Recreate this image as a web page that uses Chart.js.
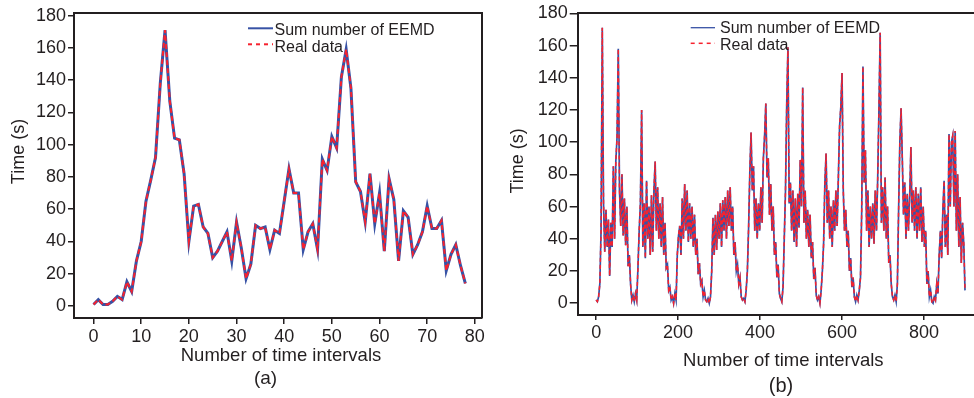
<!DOCTYPE html>
<html><head><meta charset="utf-8">
<script src="https://cdn.jsdelivr.net/npm/chart.js@4.4.1/dist/chart.umd.min.js"></script>
<style>
html,body{margin:0;padding:0;background:#fff;overflow:hidden;width:974px;height:398px;}
#ca{position:absolute;left:0;top:0;}
#cb{position:absolute;left:490px;top:0;}
</style></head><body>
<canvas id="ca" width="490" height="398"></canvas>
<canvas id="cb" width="500" height="398"></canvas>
<script>
// ---------- data: panel (a) ----------
const aIntervals = [0,1,2,3,4,5,6,7,8,9,10,11,12,13,14,15,16,17,18,19,20,21,22,23,24,25,26,27,28,29,30,31,32,33,34,35,36,37,38,39,40,41,42,43,44,45,46,47,48,49,50,51,52,53,54,55,56,57,58,59,60,61,62,63,64,65,66,67,68,69,70,71,72,73,74,75,76,77,78];
const aEEMD = [1,4,1,1,3,6,4,15,9,28, 40,65,78,92,138,171,127,104,103,82, 40,62,63,49,45,30,34,40,46,28, 52,36,17,26,50,48,49,35,47,45, 65,85,70,70,35,46,51,35,91,84, 105,98,142,159,135,77,71,52,82,51, 70,34,79,66,28,59,55,32,38,46, 62,48,48,53,22,32,38,25,14];
const aReal = [1,4,1,1,3,6,4,15,9,28, 40,65,78,92,138,171,127,104,103,82, 40,62,63,49,45,30,34,40,46,28, 52,36,17,26,50,48,49,35,47,45, 65,85,70,70,35,46,51,35,91,84, 105,98,142,159,135,77,71,52,82,51, 70,34,79,66,28,59,55,32,38,46, 62,48,48,53,22,32,38,25,14];
const aXTicks = [0,10,20,30,40,50,60,70,80];
const yTicks = [0,20,40,60,80,100,120,140,160,180];

// ---------- data: panel (b) (read every 3rd interval) ----------
const bStep = 3;
const bEEMD = [
  2,1,4,12,45,171,62,32,58,35,
  52,17,50,35,85,40,88,103,158,70,
  48,80,42,65,36,60,23,30,12,2,
  5,1,6,2,22,45,62,120,35,62,
  28,76,40,60,30,67,32,70,88,45,
  72,40,62,35,66,30,50,22,24,8,
  10,2,4,0,6,2,30,42,48,30,
  65,40,74,45,70,38,62,40,60,35,
  55,30,40,18,25,12,14,4,8,2,
  1,3,0,4,20,53,30,55,33,57,
  40,62,35,64,45,66,40,70,48,72,
  45,60,30,38,20,24,12,16,4,2,
  3,1,8,20,47,82,106,70,85,45,
  65,40,62,45,72,50,90,104,124,78,
  90,55,74,45,60,30,38,16,24,6,
  3,1,10,40,70,124,159,62,75,45,
  70,38,65,35,68,47,89,60,134,50,
  70,40,58,35,55,28,38,15,22,5,
  2,4,0,8,20,37,74,93,50,70,
  40,60,35,64,45,70,48,78,110,122,
  143,70,45,58,35,45,20,28,10,16,
  4,1,5,2,8,16,58,147,75,95,
  45,70,35,60,40,62,37,70,45,78,
  120,168,50,72,45,78,40,60,25,30,
  12,4,2,5,1,12,58,100,121,90,
  55,75,40,68,45,66,97,50,70,45,
  72,40,68,45,72,38,60,35,45,12,
  20,4,8,1,0,4,2,12,6,30,
  45,28,58,76,35,55,30,105,60,100,
  104,60,107,45,80,35,66,25,50,37,
  8];
const bReal = [
  2,1,4,12,45,171,62,32,58,35,
  52,17,50,35,85,40,88,103,158,70,
  48,80,42,65,36,60,23,30,12,2,
  5,1,6,2,22,45,62,120,35,62,
  28,76,40,60,30,67,32,70,88,45,
  72,40,62,35,66,30,50,22,24,8,
  10,2,4,0,6,2,30,42,48,30,
  65,40,74,45,70,38,62,40,60,35,
  55,30,40,18,25,12,14,4,8,2,
  1,3,0,4,20,53,30,55,33,57,
  40,62,35,64,45,66,40,70,48,72,
  45,60,30,38,20,24,12,16,4,2,
  3,1,8,20,47,82,106,70,85,45,
  65,40,62,45,72,50,90,104,124,78,
  90,55,74,45,60,30,38,16,24,6,
  3,1,10,40,70,124,159,62,75,45,
  70,38,65,35,68,47,89,60,134,50,
  70,40,58,35,55,28,38,15,22,5,
  2,4,0,8,20,37,74,93,50,70,
  40,60,35,64,45,70,48,78,110,122,
  143,70,45,58,35,45,20,28,10,16,
  4,1,5,2,8,16,58,147,75,95,
  45,70,35,60,40,62,37,70,45,78,
  120,168,50,72,45,78,40,60,25,30,
  12,4,2,5,1,12,58,100,121,90,
  55,75,40,68,45,66,97,50,70,45,
  72,40,68,45,72,38,60,35,45,12,
  20,4,8,1,0,4,2,12,6,30,
  45,28,58,76,35,55,30,105,60,100,
  104,60,107,45,80,35,66,25,50,37,
  8];
const bIntervals = bEEMD.map((_, k) => k * bStep);
const bXTicks = [0,200,400,600,800];

const seriesNames = ['Sum number of EEMD', 'Real data'];
const yTitle = 'Time (s)';
const xTitle = 'Number of time intervals';

// ---------- style ----------
const fontFamily = "'Liberation Sans', Arial, Helvetica, sans-serif";
const ink = '#231f20';
const blue = '#3752a5';
const red = '#f6222e';
Chart.defaults.font.family = fontFamily;
Chart.defaults.color = ink;

function pts(xs, ys) { return xs.map((x, k) => ({ x: x, y: ys[k] })); }

function decoPlugin(cfg) {
  return {
    id: 'deco',
    afterDraw(chart) {
      const ctx = chart.ctx, a = chart.chartArea;
      ctx.save();
      ctx.strokeStyle = ink; ctx.lineWidth = 2;
      ctx.beginPath();
      ctx.moveTo(a.left, a.top); ctx.lineTo(a.right, a.top);
      if (cfg.rightBorder) ctx.lineTo(a.right, a.bottom);
      ctx.stroke();
      cfg.legend.forEach((it, k) => {
        const ds = chart.data.datasets.find(d => d.label === seriesNames[k]);
        ctx.save();
        ctx.strokeStyle = ds.borderColor; ctx.lineWidth = it.w;
        ctx.setLineDash(it.dash || []);
        ctx.beginPath(); ctx.moveTo(it.x1, it.y); ctx.lineTo(it.x2, it.y); ctx.stroke();
        ctx.restore();
        ctx.fillStyle = ink; ctx.font = cfg.legendFont;
        ctx.textAlign = 'left'; ctx.textBaseline = 'alphabetic';
        ctx.fillText(ds.label, it.tx, it.ty);
      });
      ctx.fillStyle = ink;
      ctx.textAlign = 'center'; ctx.textBaseline = 'middle';
      ctx.font = cfg.yTitleFont;
      ctx.save();
      ctx.translate(cfg.yTitle.x, cfg.yTitle.y); ctx.rotate(-Math.PI / 2);
      ctx.fillText(yTitle, 0, 0);
      ctx.restore();
      ctx.textBaseline = 'alphabetic';
      ctx.font = cfg.xTitleFont;
      ctx.fillText(xTitle, cfg.xTitle.x, cfg.xTitle.y);
      ctx.font = cfg.capFont;
      ctx.fillText(cfg.caption.text, cfg.caption.x, cfg.caption.y);
      ctx.restore();
    }
  };
}

function axes(o) {
  const tickFont = { family: fontFamily, size: o.tickSize };
  return {
    x: {
      type: 'linear', min: o.xmin, max: o.xmax,
      afterBuildTicks: s => { s.ticks = o.xTicks.map(v => ({ value: v })); },
      afterFit: s => { s.height = o.xh; },
      ticks: { font: tickFont, color: ink, padding: 2, maxRotation: 0, autoSkip: false },
      grid: { drawOnChartArea: false, drawTicks: true, tickLength: o.xTickLen, color: ink, lineWidth: 1.5 },
      border: { color: ink, width: 2 }
    },
    y: {
      type: 'linear', min: o.ymin, max: o.ymax,
      afterBuildTicks: s => { s.ticks = yTicks.map(v => ({ value: v })); },
      afterFit: s => { s.width = o.yw; },
      ticks: { font: tickFont, color: ink, padding: 2, autoSkip: false },
      grid: { drawOnChartArea: false, drawTicks: true, tickLength: o.yTickLen, color: ink, lineWidth: 1.5 },
      border: { color: ink, width: 2 }
    }
  };
}

// ---------- chart (a) ----------
new Chart(document.getElementById('ca'), {
  type: 'line',
  data: {
    datasets: [
      { label: seriesNames[0], data: pts(aIntervals, aEEMD), borderColor: blue, borderWidth: 3, pointRadius: 0, tension: 0, order: 1 },
      { label: seriesNames[1], data: pts(aIntervals, aReal), borderColor: red, borderWidth: 2, borderDash: [5, 3], pointRadius: 0, tension: 0, order: 0 }
    ]
  },
  options: {
    responsive: false, animation: false, events: [],
    layout: { padding: { left: 0, top: 13, right: 8, bottom: 0 } },
    plugins: { legend: { display: false }, tooltip: { enabled: false } },
    scales: axes({ xmin: -4.1, xmax: 81.5, ymin: -7.4, ymax: 181.6, xTicks: aXTicks, xh: 80, yw: 74, tickSize: 18, xTickLen: 6, yTickLen: 6 })
  },
  plugins: [decoPlugin({
    rightBorder: true,
    legendFont: '16px ' + fontFamily,
    legend: [
      { x1: 248, x2: 273, y: 28.3, w: 2, tx: 274.5, ty: 35 },
      { x1: 248, x2: 273, y: 44.3, w: 2, dash: [4, 4], tx: 274.5, ty: 52 }
    ],
    yTitleFont: '18px ' + fontFamily, yTitle: { x: 19, y: 151.5 },
    xTitleFont: '18.5px ' + fontFamily, xTitle: { x: 281, y: 361 },
    capFont: '19px ' + fontFamily, caption: { text: '(a)', x: 265.5, y: 384 }
  })]
});

// ---------- chart (b) ----------
new Chart(document.getElementById('cb'), {
  type: 'line',
  data: {
    datasets: [
      { label: seriesNames[0], data: pts(bIntervals, bEEMD), borderColor: blue, borderWidth: 1.7, pointRadius: 0, tension: 0, order: 1 },
      { label: seriesNames[1], data: pts(bIntervals, bReal), borderColor: red, borderWidth: 1.5, borderDash: [4, 3], pointRadius: 0, tension: 0, order: 0 }
    ]
  },
  options: {
    responsive: false, animation: false, events: [],
    layout: { padding: { left: 0, top: 13, right: 4.5, bottom: 0 } },
    plugins: { legend: { display: false }, tooltip: { enabled: false } },
    scales: axes({ xmin: -45, xmax: 950, ymin: -7.3, ymax: 180.2, xTicks: bXTicks, xh: 83, yw: 87.7, tickSize: 18, xTickLen: 5, yTickLen: 8 })
  },
  plugins: [decoPlugin({
    rightBorder: false,
    legendFont: '16px ' + fontFamily,
    legend: [
      { x1: 200.7, x2: 225, y: 27.7, w: 1.3, tx: 230, ty: 33.3 },
      { x1: 200.7, x2: 225, y: 43.3, w: 1.5, dash: [4, 4], tx: 230, ty: 50 }
    ],
    yTitleFont: '18px ' + fontFamily, yTitle: { x: 28, y: 160.8 },
    xTitleFont: '18.5px ' + fontFamily, xTitle: { x: 293.3, y: 366 },
    capFont: '20px ' + fontFamily, caption: { text: '(b)', x: 291, y: 392 }
  })]
});
</script>
</body></html>
